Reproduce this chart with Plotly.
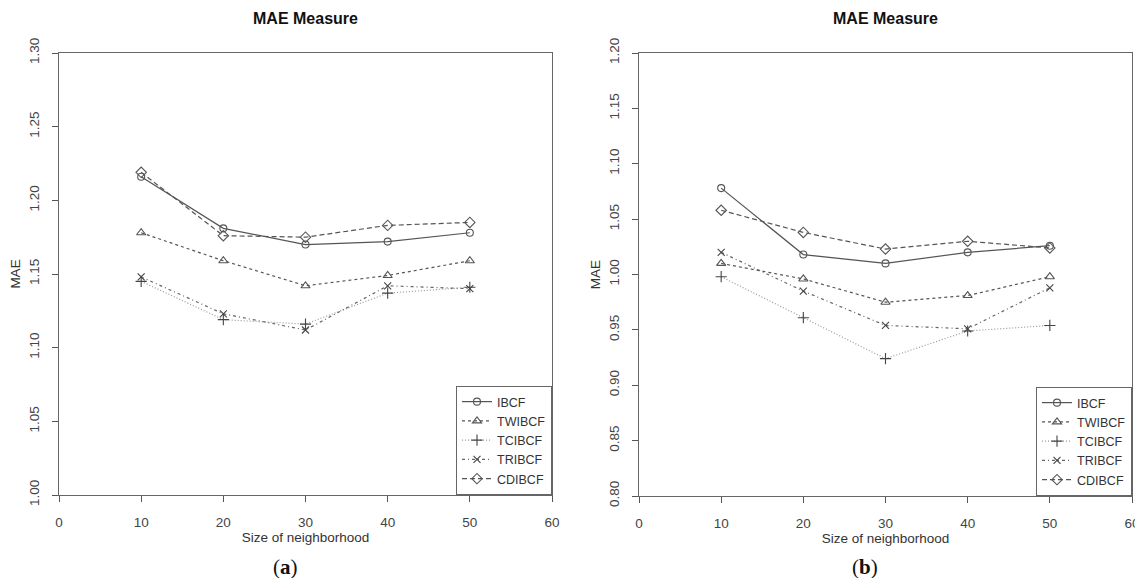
import plotly.graph_objects as go

sizes = [10, 20, 30, 40, 50]
series_names = ["IBCF", "TWIBCF", "TCIBCF", "TRIBCF", "CDIBCF"]

# Panel (a)
a_ibcf = [1.216, 1.181, 1.170, 1.172, 1.178]
a_twibcf = [1.178, 1.159, 1.142, 1.149, 1.159]
a_tcibcf = [1.145, 1.119, 1.116, 1.137, 1.141]
a_tribcf = [1.148, 1.123, 1.112, 1.142, 1.140]
a_cdibcf = [1.219, 1.176, 1.175, 1.183, 1.185]

# Panel (b)
b_ibcf = [1.078, 1.018, 1.010, 1.020, 1.026]
b_twibcf = [1.010, 0.996, 0.975, 0.981, 0.998]
b_tcibcf = [0.998, 0.961, 0.924, 0.949, 0.954]
b_tribcf = [1.020, 0.985, 0.954, 0.951, 0.988]
b_cdibcf = [1.058, 1.038, 1.023, 1.030, 1.024]

a_ticks = [1.00, 1.05, 1.10, 1.15, 1.20, 1.25, 1.30]
b_ticks = [0.80, 0.85, 0.90, 0.95, 1.00, 1.05, 1.10, 1.15, 1.20]
x_ticks = [0, 10, 20, 30, 40, 50, 60]

styles = {
    "IBCF": dict(dash="solid", symbol="circle-open", color="#555555", mcolor="#555555", size=7),
    "TWIBCF": dict(dash="3px,3px", symbol="triangle-up-open", color="#555555", mcolor="#555555", size=8),
    "TCIBCF": dict(dash="1px,2px", symbol="cross-thin-open", color="#999999", mcolor="#444444", size=8),
    "TRIBCF": dict(dash="3px,3px,1px,3px", symbol="x-thin-open", color="#666666", mcolor="#444444", size=7),
    "CDIBCF": dict(dash="5px,3px", symbol="diamond-open", color="#555555", mcolor="#555555", size=8),
}

# page body has an 8px margin; size the figure so that the page is 1143x586
OFF = 8
W, H = 1143 - OFF, 586 - 2 * OFF
FONT = "'Liberation Sans', Arial, sans-serif"
FS = 13.5

fig = go.Figure()

panels = [
    ("x", "y", "legend", [a_ibcf, a_twibcf, a_tcibcf, a_tribcf, a_cdibcf]),
    ("x2", "y2", "legend2", [b_ibcf, b_twibcf, b_tcibcf, b_tribcf, b_cdibcf]),
]
for xa, ya, lg, data in panels:
    for name, vals in zip(series_names, data):
        st = styles[name]
        fig.add_trace(go.Scatter(
            x=sizes, y=vals, name=name, mode="lines+markers",
            xaxis=xa, yaxis=ya, legend=lg,
            line=dict(color=st["color"], width=1.2, dash=st["dash"]),
            marker=dict(symbol=st["symbol"], size=st["size"],
                        color=st["mcolor"], line=dict(width=1.1, color=st["mcolor"])),
        ))

def px_x(p):
    return (p - OFF) / W

def px_y(p):
    return 1 - (p - OFF) / H

axis_common = dict(
    showgrid=False, zeroline=False, showline=True, mirror=True,
    linecolor="#666666", linewidth=1, ticks="outside", ticklen=6,
    tickcolor="#555555", tickwidth=1, automargin=False,
    ticklabeloverflow="allow",
    tickfont=dict(family=FONT, size=FS, color="#444444"),
)

fig.update_layout(
    width=W, height=H,
    margin=dict(l=0, r=0, t=0, b=0),
    paper_bgcolor="white", plot_bgcolor="white",
    font=dict(family=FONT, color="#333333"),
    xaxis=dict(domain=[px_x(59), px_x(552)], range=[0, 60], tickvals=x_ticks,
               anchor="y", ticklabelstandoff=9,
               title=dict(text="Size of neighborhood", font=dict(size=FS, color="#333333"), standoff=2),
               **axis_common),
    yaxis=dict(domain=[px_y(495), px_y(53)], range=[1.0, 1.3], tickvals=a_ticks,
               ticktext=[f"{v:.2f}" for v in a_ticks], tickangle=-90,
               anchor="x", ticklabelstandoff=8,
               title=dict(text="MAE", font=dict(size=FS, color="#333333"), standoff=2),
               **axis_common),
    xaxis2=dict(domain=[px_x(639), px_x(1132)], range=[0, 60], tickvals=x_ticks,
                anchor="y2", ticklabelstandoff=9,
                title=dict(text="Size of neighborhood", font=dict(size=FS, color="#333333"), standoff=2),
                **axis_common),
    yaxis2=dict(domain=[px_y(496), px_y(53)], range=[0.8, 1.2], tickvals=b_ticks,
                ticktext=[f"{v:.2f}" for v in b_ticks], tickangle=-90,
                anchor="x2", ticklabelstandoff=8,
                title=dict(text="MAE", font=dict(size=FS, color="#333333"), standoff=2),
                **axis_common),
    legend=dict(x=px_x(552), y=px_y(495), xanchor="right", yanchor="bottom",
                bordercolor="#666666", borderwidth=1, bgcolor="white",
                font=dict(family=FONT, size=12.5, color="#333333"), tracegroupgap=0),
    legend2=dict(x=px_x(1132), y=px_y(496), xanchor="right", yanchor="bottom",
                 bordercolor="#666666", borderwidth=1, bgcolor="white",
                 font=dict(family=FONT, size=12.5, color="#333333"), tracegroupgap=0),
    annotations=[
        dict(text="<b>MAE Measure</b>", x=px_x(305.5), y=px_y(18), xref="paper", yref="paper",
             xanchor="center", yanchor="middle",
             showarrow=False, font=dict(family=FONT, size=16, color="#111111")),
        dict(text="<b>MAE Measure</b>", x=px_x(885.5), y=px_y(19), xref="paper", yref="paper",
             xanchor="center", yanchor="middle",
             showarrow=False, font=dict(family=FONT, size=16, color="#111111")),
        dict(text="(<b>a</b>)", x=px_x(285), y=px_y(567), xref="paper", yref="paper",
             xanchor="center", yanchor="middle",
             showarrow=False, font=dict(family="'Liberation Serif', serif", size=21, color="#111111")),
        dict(text="(<b>b</b>)", x=px_x(865), y=px_y(567), xref="paper", yref="paper",
             xanchor="center", yanchor="middle",
             showarrow=False, font=dict(family="'Liberation Serif', serif", size=21, color="#111111")),
    ],
)

fig.write_html("out.html")
